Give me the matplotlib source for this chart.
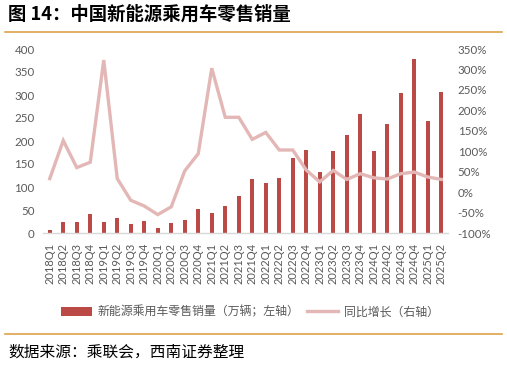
import matplotlib
matplotlib.use("Agg")
import matplotlib.pyplot as plt
from matplotlib.lines import Line2D
from matplotlib.patches import Patch
import numpy as np

plt.rcParams['font.family'] = ['Lato', 'Noto Sans CJK SC', 'DejaVu Sans']

quarters = ['2018Q1', '2018Q2', '2018Q3', '2018Q4', '2019Q1', '2019Q2', '2019Q3', '2019Q4',
            '2020Q1', '2020Q2', '2020Q3', '2020Q4', '2021Q1', '2021Q2', '2021Q3', '2021Q4',
            '2022Q1', '2022Q2', '2022Q3', '2022Q4', '2023Q1', '2023Q2', '2023Q3', '2023Q4',
            '2024Q1', '2024Q2', '2024Q3', '2024Q4', '2025Q1', '2025Q2']
sales = [6, 23, 25, 41, 25, 32, 19, 27, 11, 21, 29, 52, 44, 58, 81, 118,
         108, 119, 164, 180, 132, 178, 212, 258, 178, 236, 305, 379, 244, 306]
yoy = [33, 126, 60, 73, 323, 33, -20, -34, -55, -36, 52, 94, 303, 183, 183, 129,
       146, 103, 103, 54, 25, 53, 31, 45, 35, 32, 45, 49, 37, 31]
left_ticks = [0, 50, 100, 150, 200, 250, 300, 350, 400]
right_ticks = [-100, -50, 0, 50, 100, 150, 200, 250, 300, 350]

title = '图 14：中国新能源乘用车零售销量'
bar_label = '新能源乘用车零售销量（万辆；左轴）'
line_label = '同比增长（右轴）'
source = '数据来源：乘联会，西南证券整理'

bar_color = '#bb4946'
line_color = '#e3b7b6'
tick_color = '#595959'
orange = '#dca24a'

W, H = 507, 366
fig = plt.figure(figsize=(W / 100, H / 100), dpi=100)
ax = fig.add_axes([43 / W, 1 - 233 / H, (448 - 43) / W, (233 - 49) / H])
ax2 = ax.twinx()

x = np.arange(len(quarters))
ax.bar(x, sales, width=0.3, color=bar_color, zorder=2)
ax2.plot(x, yoy, color=line_color, lw=2.4, zorder=3, solid_joinstyle='miter')

ax.set_xlim(-0.5, len(quarters) - 0.5)
ax.set_ylim(0, 400)
ax.set_yticks(left_ticks)
ax.set_yticklabels([str(v) for v in left_ticks])
ax2.set_ylim(-100, 350)
ax2.set_yticks(right_ticks)
ax2.set_yticklabels([f'{v}%' for v in right_ticks])
ax.set_xticks(x)
ax.set_xticklabels(quarters, rotation=90)

for a in (ax, ax2):
    for s in a.spines.values():
        s.set_visible(False)
ax.spines['bottom'].set_visible(True)
ax.spines['bottom'].set_color('#d9d9d9')
ax.spines['bottom'].set_linewidth(1.0)

ax.tick_params(axis='x', length=0, pad=7, labelsize=8, colors=tick_color)
ax.tick_params(axis='y', length=0, pad=6, labelsize=8.3, colors=tick_color)
ax2.tick_params(axis='y', length=0, pad=7, labelsize=8.3, colors=tick_color)

handles = [Patch(facecolor=bar_color, edgecolor='none'),
           Line2D([0], [0], color=line_color, lw=2.4)]
fig.legend(handles, [bar_label, line_label], loc='center', ncol=2,
           bbox_to_anchor=(250 / W, 1 - 312 / H), frameon=False,
           labelcolor=tick_color, handlelength=2.6, handleheight=0.7,
           handletextpad=0.5, columnspacing=0.6,
           prop={'family': ['Noto Sans CJK SC', 'DejaVu Sans'], 'size': 8.6})

fig.text(8 / W, 1 - 14 / H, title, fontsize=13.2, fontweight='bold', color='black',
         family=['Noto Sans CJK SC', 'DejaVu Sans'], va='center', ha='left')
fig.text(8 / W, 1 - 352 / H, source, fontsize=11.3, style='italic', color='black',
         family=['Noto Sans CJK SC', 'DejaVu Sans'], va='center', ha='left')

fig.add_artist(Line2D([5 / W, 502 / W], [1 - 32 / H, 1 - 32 / H], color=orange, lw=1.2))
fig.add_artist(Line2D([5 / W, 502 / W], [1 - 334 / H, 1 - 334 / H], color=orange, lw=1.2))

fig.savefig('out.png', dpi=100)
